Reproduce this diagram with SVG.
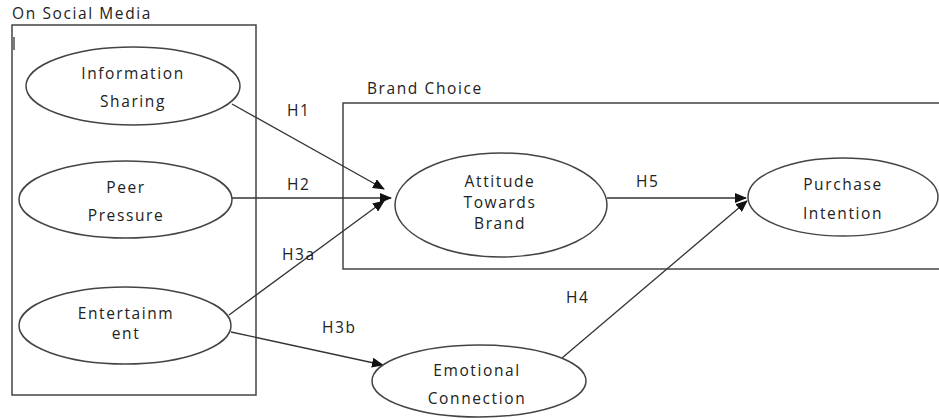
<svg xmlns="http://www.w3.org/2000/svg" width="939" height="418" viewBox="0 0 939 418">
<defs>
<marker id="arr" markerWidth="12" markerHeight="10" refX="11" refY="5" orient="auto" markerUnits="userSpaceOnUse">
<path d="M0,0 L12,5 L0,10 Z" fill="#111"/>
</marker>
<style>
.box{fill:none;stroke:#444;stroke-width:1.5}
.node{fill:#fff;stroke:#444;stroke-width:1.5}
.t{font-family:"Open Sans","Liberation Sans",sans-serif;font-size:15.5px;fill:#222;letter-spacing:1.6px;text-anchor:middle}
.l{font-family:"Open Sans","Liberation Sans",sans-serif;font-size:15.5px;fill:#222;letter-spacing:1.6px}
.c{stroke:#333;stroke-width:1.3;fill:none;marker-end:url(#arr)}
</style>
</defs>
<rect width="939" height="418" fill="#fff"/>
<g id="social-media-box">
<rect class="box" x="12" y="25" width="244" height="370"/>
<text class="l" x="12" y="19">On Social Media</text>
<line x1="14" y1="37" x2="14" y2="50" stroke="#333" stroke-width="1.3"/>
</g>
<g id="brand-choice-box">
<rect class="box" x="343" y="103" width="610" height="166"/>
<text class="l" x="367" y="94">Brand Choice</text>
</g>
<g id="connectors">
<line class="c" x1="232" y1="104" x2="384" y2="189"/>
<text class="l" x="287" y="116">H1</text>
<line class="c" x1="232" y1="198" x2="391" y2="198"/>
<text class="l" x="287" y="190">H2</text>
<line class="c" x1="229" y1="315" x2="384" y2="201"/>
<text class="l" x="282" y="260">H3a</text>
<line class="c" x1="231" y1="332" x2="383" y2="365"/>
<text class="l" x="322" y="333">H3b</text>
<line class="c" x1="562" y1="358" x2="747" y2="201"/>
<text class="l" x="566" y="303">H4</text>
<line class="c" x1="607" y1="198" x2="746" y2="198"/>
<text class="l" x="636" y="187">H5</text>
</g>
<g id="information-sharing">
<ellipse class="node" cx="133" cy="86" rx="107" ry="39"/>
<text class="t" x="133" y="79">Information</text>
<text class="t" x="133" y="107">Sharing</text>
</g>
<g id="peer-pressure">
<ellipse class="node" cx="125.5" cy="199.5" rx="106.5" ry="38.5"/>
<text class="t" x="126" y="193">Peer</text>
<text class="t" x="126" y="221">Pressure</text>
</g>
<g id="entertainment">
<ellipse class="node" cx="125" cy="325.5" rx="106" ry="38.5"/>
<text class="t" x="126" y="319">Entertainm</text>
<text class="t" x="126" y="339">ent</text>
</g>
<g id="attitude-towards-brand">
<ellipse class="node" cx="501" cy="205" rx="106" ry="52"/>
<text class="t" x="500" y="187">Attitude</text>
<text class="t" x="500" y="208">Towards</text>
<text class="t" x="500" y="229">Brand</text>
</g>
<g id="purchase-intention">
<ellipse class="node" cx="843" cy="197" rx="95" ry="39"/>
<text class="t" x="843" y="190">Purchase</text>
<text class="t" x="843" y="219">Intention</text>
</g>
<g id="emotional-connection">
<ellipse class="node" cx="479" cy="381" rx="107" ry="36"/>
<text class="t" x="477" y="376">Emotional</text>
<text class="t" x="477" y="404">Connection</text>
</g>
</svg>
